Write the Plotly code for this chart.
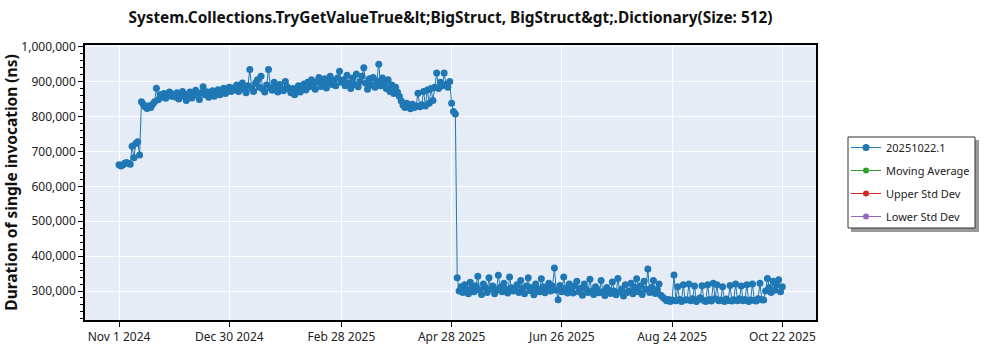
import pandas as pd
import plotly.graph_objects as go

# Duration of a single invocation, in thousands of ns, one value per day
v_2024_11 = [662, 658, 661, 666, 668, 665, 663, 715, 682, 723, 728, 690,
             842, 835, 828, 823, 831, 826, 835, 842, 881,
             848, 862, 855, 866, 852, 860, 870, 858, 864]
v_2024_12 = [856, 868, 850, 862, 872, 858, 846, 864, 870, 853, 866, 875, 860, 849, 868, 885,
             862, 871, 855, 866, 874, 858, 868, 877, 862, 870, 881, 866, 876, 884, 872]
v_2025_01 = [882, 876, 890, 872, 885, 896, 878, 868, 888, 935, 880, 872, 895, 905, 884, 915,
             878, 870, 890, 935, 882, 875, 898, 886, 870, 892, 880, 874, 900, 885, 878]
v_2025_02 = [868, 880, 862, 875, 888, 870, 884, 893, 876, 898, 885, 905, 890, 878, 900, 912,
             886, 895, 908, 882, 899, 915, 892, 904, 888, 910, 930, 898]
v_2025_03 = [905, 888, 918, 896, 880, 910, 892, 922, 885, 900, 915, 940, 895, 878, 908, 890,
             912, 884, 902, 950, 888, 910, 896, 880, 905, 872, 890, 866, 884, 870, 858]
v_2025_04 = [845, 832, 826, 838, 828, 822, 835, 826, 830, 867, 828, 834, 872, 830, 876, 838,
             880, 846, 884, 925, 880, 898, 888, 925, 892, 884, 900, 838, 814, 807]
v_2025_05 = [338, 300, 312, 296, 318, 305, 292, 325, 308, 298, 315, 342, 303, 290, 320, 310,
             296, 338, 306, 314, 292, 302, 345, 311, 298, 322, 305, 294, 340, 309, 300]
v_2025_06 = [304, 318, 296, 330, 308, 292, 314, 338, 301, 310, 289, 320, 306, 298, 335, 312,
             295, 308, 322, 300, 314, 366, 302, 275, 316, 298, 340, 307, 294, 320]
v_2025_07 = [302, 294, 315, 328, 298, 308, 288, 320, 305, 296, 334, 300, 290, 312, 304, 295,
             330, 298, 287, 310, 303, 293, 326, 300, 289, 336, 297, 306, 286, 318, 296]
v_2025_08 = [300, 322, 292, 310, 335, 298, 315, 290, 328, 305, 363, 296, 310, 330, 293, 304,
             320, 288, 282, 278, 272, 276, 270, 274, 346, 272, 312, 276, 270, 318, 274]
v_2025_09 = [275, 320, 272, 278, 314, 270, 276, 281, 315, 273, 270, 318, 276, 271, 322, 278,
             318, 272, 274, 312, 270, 277, 273, 316, 271, 275, 320, 272, 278, 314]
v_2025_10 = [272, 276, 318, 270, 274, 320, 273, 271, 278, 322, 275, 274, 300, 336, 310, 296,
             328, 302, 318, 332, 298, 312]

durations_k = (v_2024_11 + v_2024_12 + v_2025_01 + v_2025_02 + v_2025_03 + v_2025_04 +
               v_2025_05 + v_2025_06 + v_2025_07 + v_2025_08 + v_2025_09 + v_2025_10)
durations_ns = [v * 1000 for v in durations_k]
run_dates = pd.date_range("2024-11-01", periods=len(durations_ns), freq="D")

series_names = ["20251022.1", "Moving Average", "Upper Std Dev", "Lower Std Dev"]
series_colors = ["#1f77b4", "#2ca02c", "#d62728", "#9467bd"]

x_tick_dates = ["2024-11-01", "2024-12-30", "2025-02-28", "2025-04-28",
                "2025-06-26", "2025-08-24", "2025-10-22"]
x_tick_labels = ["Nov 1 2024", "Dec 30 2024", "Feb 28 2025", "Apr 28 2025",
                 "Jun 26 2025", "Aug 24 2025", "Oct 22 2025"]
y_tick_values = [300000, 400000, 500000, 600000, 700000, 800000, 900000, 1000000]

title_text = ("System.Collections.TryGetValueTrue&amp;lt;BigStruct, "
              "BigStruct&amp;gt;.Dictionary(Size: 512)")

FONT = "Noto Sans"

fig = go.Figure()
fig.add_trace(go.Scatter(
    x=run_dates, y=durations_ns, name=series_names[0], mode="lines+markers",
    legendgroup="g0",
    line=dict(color=series_colors[0], width=1),
    marker=dict(color=series_colors[0], size=7),
))
for i, (name, color) in enumerate(zip(series_names[1:], series_colors[1:]), start=1):
    fig.add_trace(go.Scatter(
        x=[None], y=[None], name=name, mode="lines+markers", legendgroup=f"g{i}",
        line=dict(color=color, width=1), marker=dict(color=color, size=6),
    ))

W, H = 1000, 350
L, R, T, B = 85, 184, 45, 30
pw, ph = W - L - R, H - T - B


def px_x(p):
    return (p - L) / pw


def px_y(p):
    return (H - B - p) / ph


# legend frame with a soft drop shadow
fig.add_shape(type="rect", xref="paper", yref="paper",
              x0=px_x(851), x1=px_x(979), y0=px_y(232), y1=px_y(140),
              fillcolor="#9a9a9a", line=dict(width=0), layer="below")
fig.add_shape(type="rect", xref="paper", yref="paper",
              x0=px_x(848), x1=px_x(975), y0=px_y(228), y1=px_y(137),
              fillcolor="white", line=dict(color="#333333", width=1), layer="below")

fig.update_layout(
    width=W, height=H,
    margin=dict(l=L, r=R, t=T, b=B, autoexpand=False),
    paper_bgcolor="white", plot_bgcolor="#e5ecf6",
    font=dict(family=FONT, size=12, color="#222222"),
    title=dict(text=title_text, x=0.5, xref="paper", y=1 - 18 / H, yanchor="middle",
               font=dict(family=FONT, size=15.4, color="#111111", weight="bold")),
    showlegend=True,
    legend=dict(x=px_x(846), y=px_y(133), xanchor="left", yanchor="top",
                tracegroupgap=4,
                bgcolor="rgba(0,0,0,0)", borderwidth=0,
                font=dict(family=FONT, size=11, color="#222222")),
)
fig.update_xaxes(
    type="date", automargin=False,
    range=["2024-10-13 19:00", "2025-11-09 00:00"],
    tickvals=x_tick_dates, ticktext=x_tick_labels,
    showgrid=True, gridcolor="white", gridwidth=1,
    ticks="outside", ticklen=5, tickcolor="black",
    showline=True, linecolor="black", linewidth=1.5, mirror=True,
    zeroline=False,
)
fig.update_yaxes(
    automargin=False,
    range=[216900, 1004900],
    tickvals=y_tick_values, tickformat=",",
    showgrid=True, gridcolor="white", gridwidth=1,
    ticks="outside", ticklen=5, tickcolor="black",
    minor=dict(dtick=20000, ticks="outside", ticklen=3, tickcolor="black", showgrid=False),
    showline=True, linecolor="black", linewidth=1.5, mirror=True,
    zeroline=False,
    title=dict(text="Duration of single invocation (ns)", standoff=4,
               font=dict(family=FONT, size=15.5, color="#111111", weight="bold")),
)

fig.write_html("out.html")
